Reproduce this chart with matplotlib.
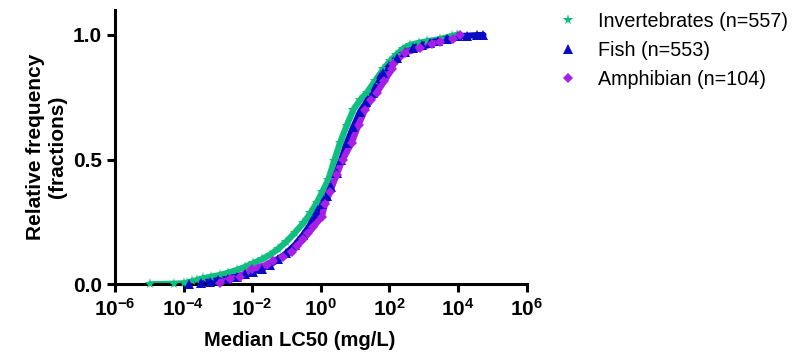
import numpy as np
import matplotlib
matplotlib.use("Agg")
import matplotlib.pyplot as plt
from matplotlib.ticker import FixedLocator

plt.rcParams['font.family'] = ['Liberation Sans', 'DejaVu Sans']
plt.rcParams['mathtext.fontset'] = 'custom'
plt.rcParams['mathtext.rm'] = 'Liberation Sans:bold'
plt.rcParams['mathtext.bf'] = 'Liberation Sans:bold'

# log10 of median LC50 (mg/L) and cumulative fraction
invert_logx = [-4.98, -4.28, -4.0, -3.89, -3.75, -3.6, -3.43, -3.2, -2.94, -2.7, -2.45, -2.2,
               -1.97, -1.72, -1.48, -1.24, -1.0, -0.76, -0.51, -0.3, -0.12, 0.05, 0.22, 0.39,
               0.56, 0.75, 0.95, 1.14, 1.34, 1.58, 1.82, 2.02, 2.2, 2.4, 2.6, 2.85, 3.1, 3.47,
               3.82, 3.96]
invert_frac = [0.0, 0.002, 0.004, 0.006, 0.012, 0.017, 0.024, 0.03, 0.037, 0.046, 0.057, 0.07,
               0.084, 0.10, 0.118, 0.142, 0.171, 0.206, 0.245, 0.285, 0.326, 0.372, 0.42, 0.495,
               0.567, 0.635, 0.70, 0.738, 0.768, 0.815, 0.862, 0.895, 0.92, 0.945, 0.96, 0.968,
               0.975, 0.983, 0.996, 1.0]

fish_logx = [-3.83, -3.5, -3.23, -3.0, -2.7, -2.45, -2.2, -1.97, -1.72, -1.48, -1.24, -1.0,
             -0.75, -0.51, -0.3, -0.12, 0.03, 0.17, 0.3, 0.46, 0.6, 0.76, 0.95, 1.14, 1.33, 1.53,
             1.73, 1.82, 2.0, 2.21, 2.45, 2.7, 2.95, 3.18, 3.42, 3.67, 4.01, 4.27, 4.54, 4.74]
fish_frac = [0.002, 0.007, 0.011, 0.016, 0.023, 0.031, 0.04, 0.051, 0.063, 0.078, 0.10, 0.125,
             0.158, 0.198, 0.24, 0.286, 0.32, 0.352, 0.39, 0.446, 0.50, 0.567, 0.63, 0.69, 0.73,
             0.768, 0.829, 0.849, 0.875, 0.909, 0.93, 0.949, 0.96, 0.969, 0.976, 0.983, 0.995,
             0.997, 0.999, 1.0]

amph_logx = [-2.94, -2.65, -2.36, -2.01, -1.58, -1.38, -1.09, -0.85, -0.68, -0.51, -0.36, -0.22,
             0.03, 0.12, 0.27, 0.46, 0.64, 0.9, 1.1, 1.29, 1.45, 1.63, 1.85, 2.07, 2.11, 2.45,
             2.89, 3.23, 3.47, 3.86, 4.06]
amph_frac = [0.006, 0.02, 0.03, 0.06, 0.078, 0.095, 0.11, 0.13, 0.155, 0.18, 0.205, 0.23,
             0.27, 0.32, 0.37, 0.44, 0.50, 0.567, 0.64, 0.70, 0.74, 0.768, 0.815, 0.862, 0.882,
             0.929, 0.947, 0.963, 0.973, 0.983, 1.0]

labels = ['Invertebrates (n=557)', 'Fish (n=553)', 'Amphibian (n=104)']
colors = ['#10BF7F', '#0A0AC4', '#A51FE6']
markers = ['*', '^', 'D']
x_exponents = [-6, -4, -2, 0, 2, 4, 6]

fig = plt.figure(figsize=(8.09, 3.58), dpi=100)
ax = fig.add_axes([0.142, 0.206, 0.509, 0.766])

series = [(invert_logx, invert_frac), (fish_logx, fish_frac), (amph_logx, amph_frac)]
handles = []
for (lx, fr), c, m, lab, ms in zip(series, colors, markers, labels, [8, 6.5, 5.5]):
    x = 10 ** np.array(lx)
    ax.plot(x, fr, '-', color=c, lw=4.5, zorder=2, solid_capstyle='round')
    h, = ax.plot(x, fr, m, color=c, ms=ms, mew=0, zorder=3, clip_on=False, label=lab)
    handles.append(h)

ax.set_xscale('log')
ax.set_xlim(1e-6, 1e6)
ax.set_ylim(0, 1.1)
ax.xaxis.set_major_locator(FixedLocator([10.0 ** k for k in x_exponents]))
ax.xaxis.set_minor_locator(FixedLocator([]))
ax.set_xticklabels([r'$\mathbf{10^{%d}}$' % k for k in x_exponents])
ax.set_yticks([0, 0.5, 1.0])
ax.set_yticklabels(['0.0', '0.5', '1.0'])

for s in ['top', 'right']:
    ax.spines[s].set_visible(False)
for s in ['left', 'bottom']:
    ax.spines[s].set_linewidth(2.2)
ax.tick_params(width=2.2, length=6, labelsize=15)
for t in ax.get_yticklabels():
    t.set_fontweight('bold')

ax.set_xlabel('Median LC50 (mg/L)', fontsize=14.5, fontweight='bold')
ax.xaxis.set_label_coords(0.448, -0.172)
ax.set_ylabel('Relative frequency\n(fractions)', fontsize=15, fontweight='bold', labelpad=4)

fig.legend(handles=handles, loc='upper left', bbox_to_anchor=(0.666, 1.016), frameon=False,
           fontsize=14.2, handlelength=1.2, handletextpad=0.9, labelspacing=0.5)

fig.savefig('out.png', dpi=100)
